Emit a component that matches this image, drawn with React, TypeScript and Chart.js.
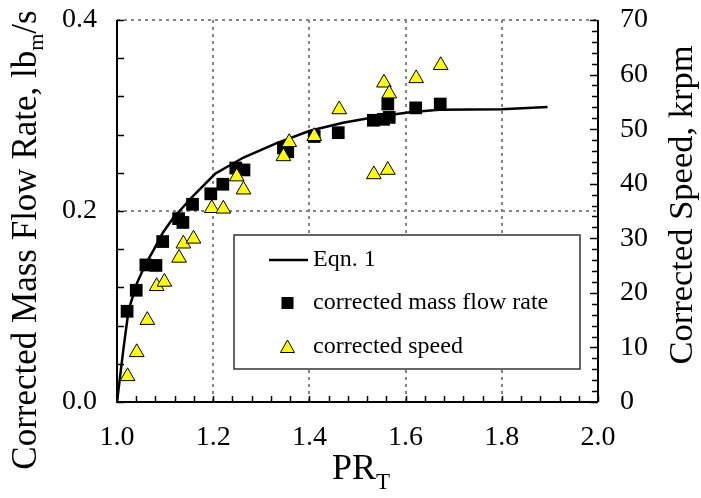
import React, { useEffect, useRef } from 'react';
import { Chart, registerables } from 'chart.js';

Chart.register(...registerables);

// ---- data ----
const eqnX = [1.0, 1.013, 1.024, 1.041, 1.06, 1.076, 1.095, 1.117, 1.13, 1.159, 1.204, 1.263, 1.332, 1.401, 1.47, 1.54, 1.609, 1.67, 1.8, 1.895];
const eqnY = [0.0, 0.054, 0.096, 0.124, 0.145, 0.159, 0.177, 0.193, 0.2, 0.216, 0.239, 0.256, 0.271, 0.284, 0.2925, 0.2988, 0.3034, 0.306, 0.3065, 0.309];

const massX = [1.021, 1.04, 1.06, 1.081, 1.095, 1.128, 1.137, 1.157, 1.195, 1.22, 1.247, 1.264, 1.346, 1.355, 1.41, 1.46, 1.533, 1.554, 1.566, 1.563, 1.621, 1.672];
const massY = [0.095, 0.117, 0.1435, 0.143, 0.168, 0.192, 0.188, 0.207, 0.218, 0.228, 0.245, 0.243, 0.266, 0.262, 0.278, 0.282, 0.295, 0.296, 0.298, 0.312, 0.308, 0.312];

const speedX = [1.022, 1.041, 1.063, 1.0825, 1.0985, 1.129, 1.138, 1.159, 1.197, 1.221, 1.249, 1.263, 1.346, 1.358, 1.41, 1.462, 1.534, 1.563, 1.555, 1.566, 1.622, 1.673];
const speedY = [4.7, 9.1, 15.0, 21.2, 22.0, 26.4, 29.0, 29.9, 35.5, 35.4, 41.3, 38.9, 45.0, 47.6, 48.7, 53.6, 41.7, 42.5, 58.5, 56.5, 59.3, 61.7];

const xGridValues = [1.2, 1.4, 1.6, 1.8];
const yGridValues = [0.2, 0.4];

const labels = ['Eqn. 1', 'corrected mass flow rate', 'corrected speed'];
const xTitle = ['PR', 'T'];
const yTitle = ['Corrected Mass Flow Rate, lb', 'm', '/s'];
const y1Title = 'Corrected Speed, krpm';

const FONT = "'Liberation Serif', 'Times New Roman', serif";

const decorPlugin = {
  id: 'decor',
  beforeDatasetsDraw(chart: any) {
    const { ctx, chartArea: a, scales } = chart;
    const x = scales.x, y = scales.y;
    ctx.save();
    ctx.strokeStyle = '#858585';
    ctx.lineWidth = 2;
    ctx.setLineDash([3, 4]);
    for (const v of xGridValues) {
      const px = Math.round(x.getPixelForValue(v));
      ctx.beginPath();
      ctx.moveTo(px, a.top);
      ctx.lineTo(px, a.bottom);
      ctx.stroke();
    }
    for (const v of yGridValues) {
      const py = Math.round(y.getPixelForValue(v));
      ctx.beginPath();
      ctx.moveTo(a.left, py);
      ctx.lineTo(a.right, py);
      ctx.stroke();
    }
    ctx.restore();
  },
  afterDatasetsDraw(chart: any) {
    const { ctx, chartArea: a, scales } = chart;
    const x = scales.x, y = scales.y, y1 = scales.y1;
    ctx.save();
    // legend box
    const lx = 234, ly = 235, lw = 346, lh = 134;
    ctx.fillStyle = '#ffffff';
    ctx.fillRect(lx, ly, lw, lh);
    ctx.strokeStyle = '#333333';
    ctx.lineWidth = 1.5;
    ctx.setLineDash([]);
    ctx.strokeRect(lx, ly, lw, lh);
    ctx.font = `24px ${FONT}`;
    ctx.fillStyle = '#000';
    ctx.textBaseline = 'middle';
    ctx.textAlign = 'left';
    // entry 1: line
    ctx.strokeStyle = '#000';
    ctx.lineWidth = 2.5;
    ctx.beginPath();
    ctx.moveTo(269, 260);
    ctx.lineTo(308, 260);
    ctx.stroke();
    ctx.fillText(labels[0], 313, 260);
    // entry 2: square
    ctx.fillRect(281.5, 297, 12, 12);
    ctx.fillText(labels[1], 313, 303);
    // entry 3: triangle
    ctx.beginPath();
    ctx.moveTo(287.5, 340);
    ctx.lineTo(294.5, 352.5);
    ctx.lineTo(280.5, 352.5);
    ctx.closePath();
    ctx.fillStyle = '#ffff00';
    ctx.fill();
    ctx.lineWidth = 1;
    ctx.strokeStyle = '#000';
    ctx.stroke();
    ctx.fillStyle = '#000';
    ctx.fillText(labels[2], 313, 347);

    // axes
    ctx.strokeStyle = '#000';
    ctx.lineWidth = 2;
    ctx.beginPath();
    ctx.moveTo(a.left, a.top);
    ctx.lineTo(a.left, a.bottom);
    ctx.lineTo(a.right, a.bottom);
    ctx.moveTo(a.right, a.bottom);
    ctx.lineTo(a.right, a.top);
    ctx.stroke();
    // ticks
    ctx.lineWidth = 1.5;
    ctx.beginPath();
    for (let i = 0; i <= 25; i++) {
      const px = Math.round(x.getPixelForValue(1 + i * 0.04)) + 0.5;
      ctx.moveTo(px, a.bottom);
      ctx.lineTo(px, a.bottom - 6);
    }
    for (let i = 0; i <= 10; i++) {
      const py = Math.round(y.getPixelForValue(i * 0.04)) + 0.5;
      ctx.moveTo(a.left, py);
      ctx.lineTo(a.left + 7, py);
    }
    for (let i = 0; i <= 35; i++) {
      const py = Math.round(y1.getPixelForValue(i * 2)) + 0.5;
      const len = i % 5 === 0 ? 8 : 6;
      ctx.moveTo(a.right, py);
      ctx.lineTo(a.right - len, py);
    }
    ctx.stroke();
    ctx.restore();
  },
  afterDraw(chart: any) {
    const { ctx } = chart;
    ctx.save();
    ctx.fillStyle = '#000';
    ctx.textBaseline = 'alphabetic';
    ctx.textAlign = 'left';
    // x title with subscript
    const big = `36px ${FONT}`, small = `23px ${FONT}`;
    ctx.font = big;
    const w1 = ctx.measureText(xTitle[0]).width;
    ctx.font = small;
    const w2 = ctx.measureText(xTitle[1]).width;
    const sx = 361 - (w1 + w2) / 2;
    ctx.font = big;
    ctx.fillText(xTitle[0], sx, 479);
    ctx.font = small;
    ctx.fillText(xTitle[1], sx + w1, 489);

    // left title
    const tb = `35px ${FONT}`, ts = `22px ${FONT}`;
    ctx.font = tb;
    const a1 = ctx.measureText(yTitle[0]).width;
    const a3 = ctx.measureText(yTitle[2]).width;
    ctx.font = ts;
    const a2 = ctx.measureText(yTitle[1]).width;
    const total = a1 + a2 + a3;
    ctx.save();
    ctx.translate(36, 240);
    ctx.rotate(-Math.PI / 2);
    let p = -total / 2;
    ctx.font = tb;
    ctx.fillText(yTitle[0], p, 0);
    p += a1;
    ctx.font = ts;
    ctx.fillText(yTitle[1], p, 7);
    p += a2;
    ctx.font = tb;
    ctx.fillText(yTitle[2], p, 0);
    ctx.restore();

    // right title
    ctx.save();
    ctx.font = `34.5px ${FONT}`;
    const r = ctx.measureText(y1Title).width;
    ctx.translate(692, 205);
    ctx.rotate(-Math.PI / 2);
    ctx.fillText(y1Title, -r / 2, 0);
    ctx.restore();
    ctx.restore();
  },
};

export default function App() {
  const ref = useRef<HTMLCanvasElement | null>(null);
  useEffect(() => {
    if (!ref.current) return;
    const tickFont = { family: FONT, size: 28 };
    const chart = new Chart(ref.current, {
      type: 'scatter',
      data: {
        datasets: [
          {
            label: labels[2],
            data: speedX.map((v, i) => ({ x: v, y: speedY[i] })),
            yAxisID: 'y1',
            pointStyle: 'triangle',
            pointRadius: 8.5,
            backgroundColor: '#ffff00',
            borderColor: '#000',
            borderWidth: 1,
            order: 0,
          },
          {
            label: labels[1],
            data: massX.map((v, i) => ({ x: v, y: massY[i] })),
            yAxisID: 'y',
            pointStyle: 'rect',
            pointRadius: 9,
            backgroundColor: '#000',
            borderColor: '#000',
            borderWidth: 0,
            order: 1,
          },
          {
            label: labels[0],
            type: 'line',
            data: eqnX.map((v, i) => ({ x: v, y: eqnY[i] })),
            yAxisID: 'y',
            showLine: true,
            borderColor: '#000',
            borderWidth: 2.5,
            pointRadius: 0,
            fill: false,
            tension: 0,
            order: 2,
          } as any,
        ],
      },
      options: {
        responsive: false,
        animation: false,
        devicePixelRatio: 1,
        layout: { padding: { top: 20, left: 0, right: 0, bottom: 0 } },
        plugins: { legend: { display: false }, tooltip: { enabled: false } },
        scales: {
          x: {
            type: 'linear',
            position: 'bottom',
            min: 1,
            max: 2,
            grid: { display: false, drawTicks: false },
            border: { display: false },
            ticks: {
              stepSize: 0.2,
              padding: 19,
              maxRotation: 0,
              color: '#000',
              font: tickFont,
              callback: (v: any) => Number(v).toFixed(1),
            },
            afterFit: (s: any) => { s.height = 96; s.paddingLeft = 0; s.paddingRight = 0; },
          },
          y: {
            type: 'linear',
            position: 'left',
            min: 0,
            max: 0.4,
            grid: { display: false, drawTicks: false },
            border: { display: false },
            ticks: {
              stepSize: 0.2,
              padding: 20,
              color: '#000',
              font: tickFont,
              callback: (v: any) => Number(v).toFixed(1),
            },
            afterFit: (s: any) => { s.width = 117; s.paddingTop = 0; s.paddingBottom = 0; },
          },
          y1: {
            type: 'linear',
            position: 'right',
            min: 0,
            max: 70,
            grid: { display: false, drawTicks: false },
            border: { display: false },
            ticks: {
              stepSize: 10,
              padding: 22,
              color: '#000',
              font: tickFont,
            },
            afterFit: (s: any) => { s.width = 103; s.paddingTop = 0; s.paddingBottom = 0; },
          },
        },
      },
      plugins: [decorPlugin],
    });
    return () => chart.destroy();
  }, []);
  return (
    <div style={{ position: 'fixed', left: 0, top: 0, width: 701, height: 498, background: '#fff' }}>
      <canvas ref={ref} width={701} height={498} style={{ display: 'block', width: 701, height: 498 }} />
    </div>
  );
}
